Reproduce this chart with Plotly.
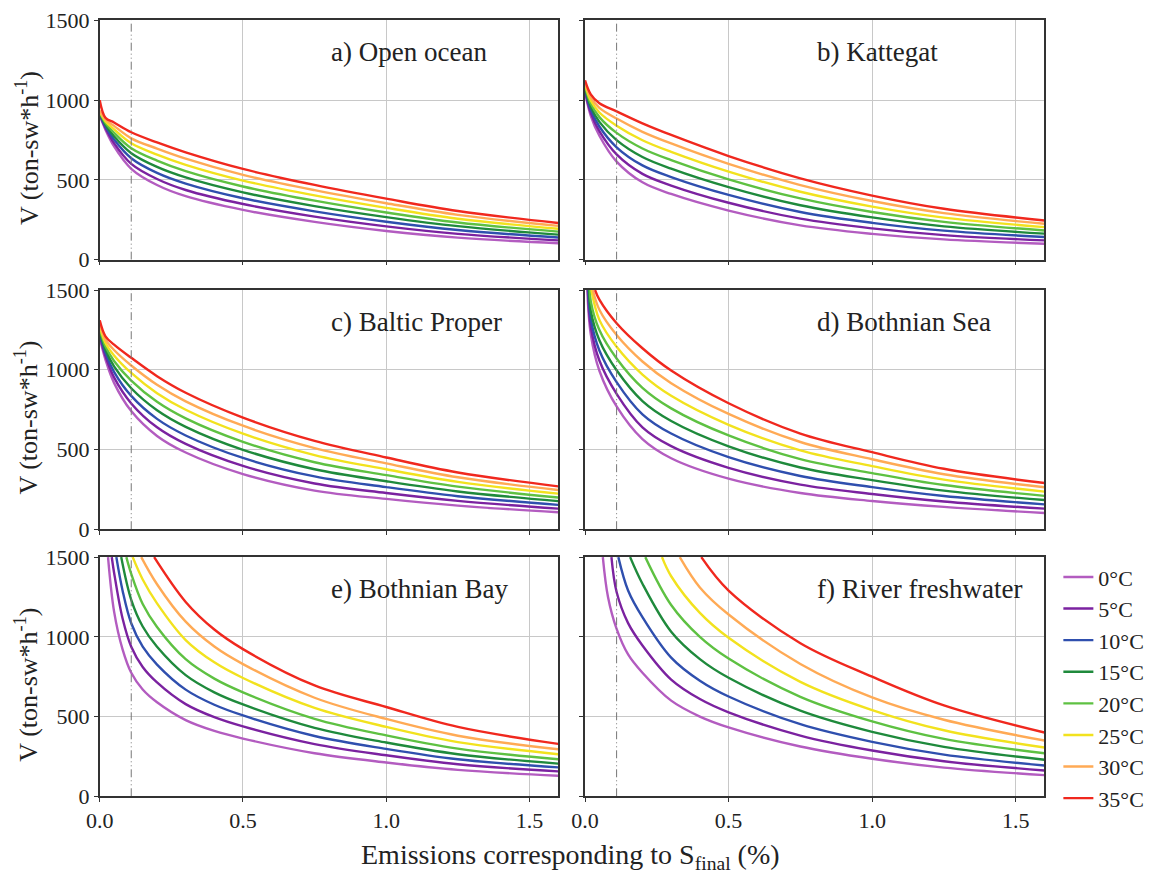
import plotly.graph_objects as go
from plotly.subplots import make_subplots

# ---------------- data ----------------
X_GRID = [0, 0.02, 0.05, 0.11, 0.2, 0.3, 0.5, 0.75, 1.0, 1.25, 1.6]
X_GRID_LOW_SALINITY = [0.05, 0.08, 0.11, 0.15, 0.2, 0.3, 0.4, 0.5, 0.75, 1.0, 1.25, 1.6]
TEMPS = ["0°C", "5°C", "10°C", "15°C", "20°C", "25°C", "30°C", "35°C"]
PANEL_TITLES = ["a) Open ocean", "b) Kattegat", "c) Baltic Proper",
                "d) Bothnian Sea", "e) Bothnian Bay", "f) River freshwater"]
X_TICKS = [0, 0.5, 1.0, 1.5]
Y_TICKS = [0, 500, 1000, 1500]
Y_TOP = 1500          # value where curves leave the top of the plot
REF_X = 0.11          # dash-dot reference line

OPEN_OCEAN = [
    [905, 815, 710, 570, 468, 398, 312, 237, 180, 138, 103],
    [910, 826, 731, 601, 506, 437, 349, 270, 209, 162, 121],
    [915, 836, 753, 636, 544, 477, 385, 303, 238, 186, 139],
    [920, 847, 774, 668, 582, 516, 422, 336, 267, 210, 157],
    [925, 858, 796, 699, 621, 555, 459, 370, 296, 233, 176],
    [930, 868, 817, 730, 659, 595, 496, 403, 325, 257, 194],
    [935, 879, 839, 761, 697, 634, 532, 436, 354, 281, 212],
    [1000, 890, 860, 799, 735, 673, 569, 469, 383, 305, 230],
]
KATTEGAT = [
    [1050, 902, 777, 615, 485, 412, 308, 215, 162, 127, 100],
    [1060, 921, 806, 660, 538, 465, 357, 257, 196, 154, 121],
    [1070, 941, 835, 705, 591, 518, 406, 299, 231, 182, 142],
    [1080, 960, 864, 750, 644, 571, 455, 341, 265, 209, 163],
    [1090, 979, 894, 795, 697, 624, 503, 384, 299, 237, 183],
    [1100, 998, 923, 840, 749, 676, 552, 426, 333, 264, 204],
    [1110, 1018, 952, 885, 802, 729, 601, 468, 368, 292, 225],
    [1125, 1037, 981, 930, 855, 782, 650, 510, 402, 319, 246],
]
BALTIC_PROPER = [
    [1200, 1064, 918, 741, 585, 481, 346, 242, 190, 148, 106],
    [1215, 1085, 952, 789, 639, 535, 397, 287, 227, 178, 129],
    [1230, 1106, 987, 836, 692, 588, 447, 331, 264, 207, 153],
    [1245, 1127, 1021, 884, 746, 642, 498, 376, 301, 237, 176],
    [1260, 1147, 1055, 932, 799, 695, 548, 420, 339, 267, 199],
    [1275, 1168, 1090, 980, 853, 749, 599, 465, 376, 297, 223],
    [1290, 1189, 1124, 1027, 906, 802, 649, 509, 413, 326, 246],
    [1310, 1210, 1158, 1075, 960, 856, 700, 554, 450, 356, 269],
]
BOTHNIAN_SEA = [
    [None, 1223, 994, 770, 565, 445, 317, 227, 177, 140, 102],
    [None, 1270, 1058, 849, 639, 521, 385, 280, 221, 174, 129],
    [None, 1320, 1121, 923, 721, 600, 452, 334, 264, 208, 156],
    [None, 1370, 1185, 997, 804, 679, 520, 387, 308, 242, 183],
    [None, 1430, 1249, 1071, 887, 758, 588, 440, 352, 277, 209],
    [None, None, 1313, 1144, 970, 837, 655, 494, 396, 311, 236],
    [None, None, 1376, 1218, 1052, 916, 723, 547, 439, 345, 263],
    [None, None, 1440, 1292, 1135, 995, 790, 600, 483, 379, 290],
]
BOTHNIAN_SEA_START = [0.008, 0.010, 0.012, 0.014, 0.017, 0.022, 0.027, 0.035]
BOTHNIAN_BAY = [
    [1160, 920, 775, 670, 590, 478, 410, 362, 270, 212, 166, 129],
    [1404, 1113, 938, 811, 714, 578, 496, 438, 327, 257, 201, 156],
    [None, 1288, 1085, 938, 826, 669, 574, 507, 378, 297, 232, 181],
    [None, None, 1232, 1065, 938, 760, 652, 576, 429, 337, 264, 205],
    [None, None, 1395, 1206, 1062, 860, 738, 652, 486, 382, 299, 232],
    [None, None, None, 1360, 1210, 980, 840, 742, 554, 435, 340, 264],
    [None, None, None, None, 1330, 1095, 939, 829, 618, 485, 380, 295],
    [None, None, None, None, None, 1219, 1046, 923, 695, 560, 435, 329],
]
BOTHNIAN_BAY_START = [0.029, 0.042, 0.058, 0.075, 0.093, 0.115, 0.145, 0.19]
RIVER = [
    [None, 1250, 1050, 890, 775, 600, 500, 432, 312, 235, 180, 133],
    [None, None, 1281, 1086, 946, 732, 610, 527, 381, 287, 220, 162],
    [None, None, None, 1291, 1124, 870, 725, 626, 452, 341, 261, 193],
    [None, None, None, None, 1333, 1032, 860, 743, 537, 404, 310, 229],
    [None, None, None, None, None, 1200, 1000, 864, 624, 470, 360, 270],
    [None, None, None, None, None, 1380, 1150, 994, 718, 541, 414, 306],
    [None, None, None, None, None, None, 1310, 1140, 830, 620, 480, 350],
    [None, None, None, None, None, None, None, 1290, 960, 750, 570, 400],
]
RIVER_START = [0.062, 0.092, 0.116, 0.157, 0.21, 0.268, 0.33, 0.405]

PANELS = [
    (OPEN_OCEAN, X_GRID, None), (KATTEGAT, X_GRID, None),
    (BALTIC_PROPER, X_GRID, None),
    (BOTHNIAN_SEA, X_GRID, BOTHNIAN_SEA_START),
    (BOTHNIAN_BAY, X_GRID_LOW_SALINITY, BOTHNIAN_BAY_START),
    (RIVER, X_GRID_LOW_SALINITY, RIVER_START),
]

# ---------------- style ----------------
COLORS = ["#b35cc0", "#7b22a0", "#2f4fae", "#1f8a3c", "#5ec142",
          "#f2e21e", "#ffaa55", "#f0281e"]
W, H = 1156, 883
FONT = "Liberation Serif"
TXT = "#222222"

# pixel -> paper mapping (compensates the observed page offset)
OX, OY, PW, PH = 20.0, 19.0, 1146.0, 861.0


def px_x(px):
    return (px - OX) / PW


def px_y(py):
    return 1 - (py - OY) / PH


fig = make_subplots(rows=3, cols=2)

col_dom = {1: [px_x(98), px_x(558)], 2: [px_x(585), px_x(1046)]}
row_px = {1: (19.5, 259.5), 2: (290, 530), 3: (558, 798)}
row_dom = {r: [px_y(b), px_y(t)] for r, (t, b) in row_px.items()}

for p, (series, grid, starts) in enumerate(PANELS):
    r, c = p // 2 + 1, p % 2 + 1
    for k, vals in enumerate(series):
        xs, ys = [], []
        if starts is not None:
            xs.append(starts[k])
            ys.append(Y_TOP)
        for xv, yv in zip(grid, vals):
            if yv is not None:
                xs.append(xv)
                ys.append(yv)
        fig.add_trace(go.Scatter(
            x=xs, y=ys, mode="lines", name=TEMPS[k],
            line=dict(color=COLORS[k], width=2.4, shape="spline", smoothing=1.0),
            legendgroup=TEMPS[k], showlegend=(p == 0),
        ), row=r, col=c)
    fig.add_trace(go.Scatter(
        x=[REF_X, REF_X], y=[Y_TICKS[0], Y_TICKS[-1]], mode="lines",
        line=dict(color="#777777", width=1, dash="8px,3px,1px,3px,1px,3px"),
        showlegend=False, hoverinfo="skip"), row=r, col=c)
    fig.add_annotation(
        x=0.8, y=1300, xref=f"x{p+1}" if p else "x", yref=f"y{p+1}" if p else "y",
        text=PANEL_TITLES[p], showarrow=False, xanchor="left", yanchor="middle",
        font=dict(family=FONT, size=27, color=TXT))

for r in (1, 2, 3):
    for c in (1, 2):
        fig.update_xaxes(
            domain=col_dom[c], range=[0, 1.6], tickvals=X_TICKS,
            ticktext=[f"{v:.1f}" for v in X_TICKS], showticklabels=(r == 3),
            showgrid=True, gridcolor="#c8c8c8", gridwidth=1.3, zeroline=False,
            showline=True, linecolor="#333333", linewidth=1.6, mirror=True,
            ticks="outside", ticklen=4, tickcolor="#333333",
            tickfont=dict(family=FONT, size=22, color=TXT), row=r, col=c)
        fig.update_yaxes(
            domain=row_dom[r], range=[0, 1500], tickvals=Y_TICKS,
            showticklabels=(c == 1),
            showgrid=True, gridcolor="#c8c8c8", gridwidth=1.3, zeroline=False,
            showline=True, linecolor="#333333", linewidth=1.6, mirror=True,
            ticks="outside", ticklen=4, tickcolor="#333333",
            tickfont=dict(family=FONT, size=22, color=TXT), row=r, col=c)

for r in (1, 2, 3):
    t, b = row_px[r]
    fig.add_annotation(
        x=px_x(25), y=px_y((t + b) / 2 + 8), xref="paper", yref="paper",
        textangle=-90, text="V (ton-sw*h<sup>-1</sup>)", showarrow=False,
        xanchor="center", yanchor="middle",
        font=dict(family=FONT, size=26, color=TXT))

fig.add_annotation(
    x=px_x(570), y=px_y(858), xref="paper", yref="paper",
    text="Emissions corresponding to S<sub>final</sub> (%)", showarrow=False,
    xanchor="center", yanchor="middle",
    font=dict(family=FONT, size=28, color=TXT))

fig.update_layout(
    width=W, height=H, margin=dict(l=0, r=0, t=0, b=0),
    paper_bgcolor="white", plot_bgcolor="white",
    legend=dict(x=px_x(1060), y=px_y(557), xanchor="left", yanchor="top",
                font=dict(family=FONT, size=22, color=TXT),
                tracegroupgap=0, itemwidth=30, bgcolor="rgba(0,0,0,0)"),
    showlegend=True,
)

fig.write_html("out.html")
